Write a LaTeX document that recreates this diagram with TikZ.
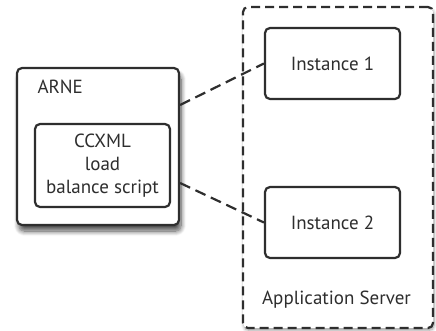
\documentclass[tikz,border=0pt]{standalone}
\usepackage{fontspec}
\setmainfont{PT Sans}
\usetikzlibrary{shadows.blur}
\definecolor{ink}{HTML}{2E2E2E}
\tikzset{
  box/.style={draw=ink, line width=2.2pt, rounded corners=5pt, fill=white},
  label/.style={font=\fontsize{19}{23}\selectfont, text=ink},
  link/.style={draw=ink, line width=2.2pt, dash pattern=on 11pt off 6pt},
}
\begin{document}
\begin{tikzpicture}[x=1pt, y=-1pt]
\useasboundingbox (0,0) rectangle (436,330);

% application server (dashed container)
\node[box, dash pattern=on 9pt off 5pt, minimum width=190pt, minimum height=321pt,
      blur shadow={shadow xshift=1pt, shadow yshift=-2.5pt, shadow blur radius=3pt,
                   shadow blur steps=6, shadow opacity=40}]
      (server) at (338,167.5) {};
\node[label, anchor=base] (servertext) at (336.5,304) {Application Server};

% instances
\node[box, minimum width=135pt, minimum height=71pt] (inst1) at (332.5,63.5) {};
\node[label] (inst1text) at (inst1.center) {Instance 1};
\node[box, minimum width=135pt, minimum height=71pt] (inst2) at (332.5,222.5) {};
\node[label] (inst2text) at (inst2.center) {Instance 2};

% ARNE with its script
\node[box, minimum width=162pt, minimum height=157pt,
      blur shadow={shadow xshift=2pt, shadow yshift=-6pt, shadow blur radius=5pt,
                   shadow blur steps=10, shadow opacity=70}]
      (arne) at (98,146.5) {};
\node[label, anchor=base west] (arnetext) at (34,93) {ARNE};
\node[box, minimum width=135pt, minimum height=83pt] (script) at (102.5,165.5) {};
\node[label, align=center] (scripttext) at (script.center) {CCXML\\load\\balance script};

% connections
\draw[link] ([yshift=41.5pt]arne.east) -- (inst1.west);
\draw[link] ([yshift=-36.5pt]arne.east) -- (inst2.west);
\end{tikzpicture}
\end{document}
